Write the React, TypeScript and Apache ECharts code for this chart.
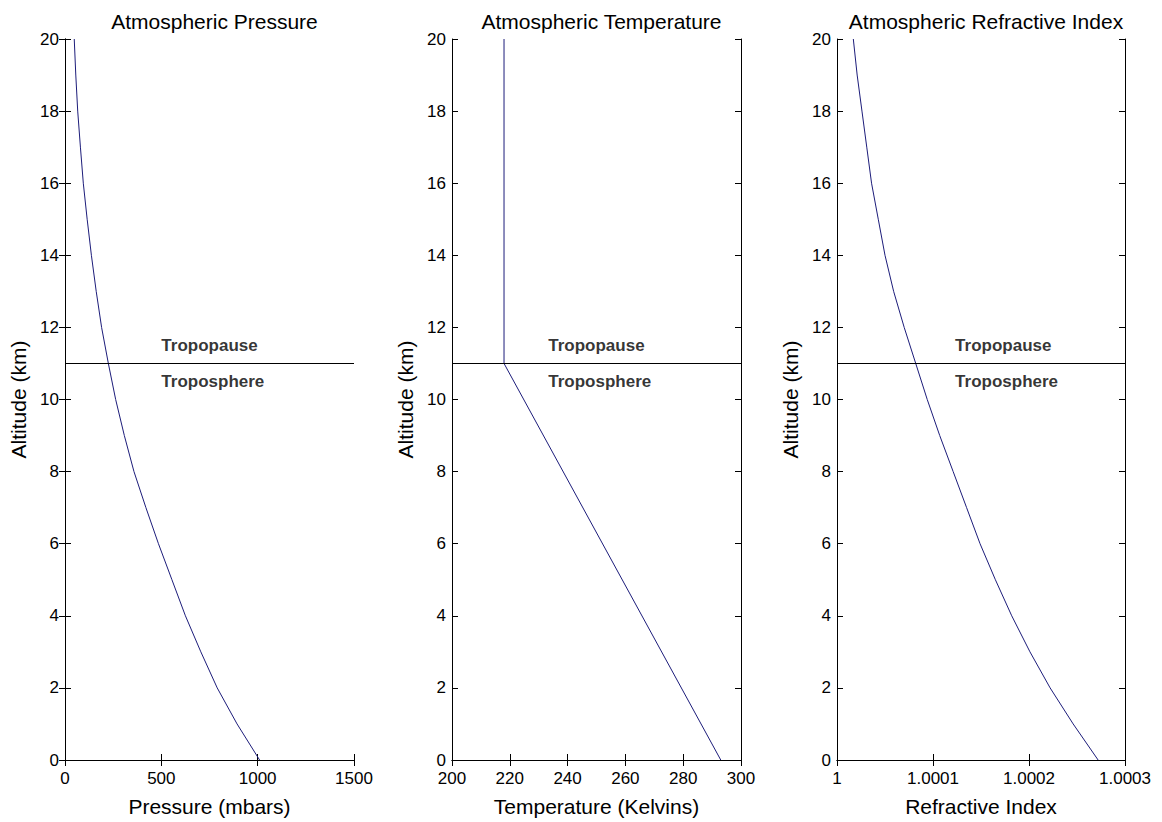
import React, { useEffect, useRef } from "react";
import * as echarts from "echarts";

const altitudeKm = [0, 1, 2, 3, 4, 5, 6, 7, 8, 9, 10, 11, 12, 13, 14, 15, 16, 17, 18, 19, 20];
const pressureMbar = [1010, 893, 790, 705, 625, 555, 485, 420, 358, 308, 263, 225, 190, 162, 137, 115, 95, 80, 66, 56, 48];
const tempAltitudeKm = [0, 11, 20];
const temperatureK = [293, 218, 218];
const refractiveIndex = [
  1.000272, 1.000246, 1.000222, 1.000201, 1.000182, 1.000165, 1.000149, 1.000135, 1.000121, 1.000107,
  1.000094, 1.000082, 1.00007, 1.000059, 1.00005, 1.000043, 1.000036, 1.000031, 1.000026, 1.000021, 1.000017,
];
const titles = ["Atmospheric Pressure", "Atmospheric Temperature", "Atmospheric Refractive Index"];
const xNames = ["Pressure (mbars)", "Temperature (Kelvins)", "Refractive Index"];
const xRanges = [
  [0, 1500, 500],
  [200, 300, 20],
  [1, 1.0003, 0.0001],
];
const tropopauseKm = 11;
const annotTextX = [500, 233.3, 1.000123];
const annotTexts = ["Tropopause", "Troposphere"];
const annotTextY = [11.5, 10.5];

const FONT = "Arial, 'Liberation Sans', sans-serif";
const LINE_COLOR = "#1c1c7a";

export default function App() {
  const ref = useRef<HTMLDivElement>(null);
  useEffect(() => {
    document.body.style.margin = "0";
    if (!ref.current) return;
    const chart = echarts.init(ref.current, undefined, { renderer: "svg" });
    const grids = [
      { left: 65, top: 39, width: 289, height: 725 },
      { left: 452, top: 39, width: 289, height: 725 },
      { left: 837, top: 39, width: 288, height: 725 },
    ];
    const xAxis: any[] = [];
    const yAxis: any[] = [];
    const series: any[] = [];
    const lineAxis = { show: true, lineStyle: { color: "#000", width: 1 } };
    const fmt = (v: number) => String(parseFloat(v.toFixed(4)));
    grids.forEach((g, i) => {
      const [mn, mx, iv] = xRanges[i];
      xAxis.push({
        type: "value", gridIndex: i, position: "bottom", min: mn, max: mx, interval: iv,
        name: xNames[i], nameLocation: "middle", nameGap: 36,
        nameTextStyle: { fontFamily: FONT, fontSize: 21, color: "#000" },
        axisLine: lineAxis, splitLine: { show: false },
        axisTick: { inside: true, length: 6, lineStyle: { color: "#000" } },
        axisLabel: { fontFamily: FONT, fontSize: 17, color: "#000", margin: 10, formatter: fmt, showMinLabel: true, showMaxLabel: true },
      });
      xAxis.push({
        type: "value", gridIndex: i, position: "top", min: mn, max: mx, interval: iv,
        axisLine: lineAxis, splitLine: { show: false },
        axisTick: { inside: true, length: 6, lineStyle: { color: "#000" } },
        axisLabel: { show: false },
      });
      yAxis.push({
        type: "value", gridIndex: i, position: "left", min: 0, max: 20, interval: 2,
        name: "Altitude (km)", nameLocation: "middle", nameGap: 36,
        nameTextStyle: { fontFamily: FONT, fontSize: 21, color: "#000" },
        axisLine: lineAxis, splitLine: { show: false },
        axisTick: { inside: true, length: 6, lineStyle: { color: "#000" } },
        axisLabel: { fontFamily: FONT, fontSize: 17, color: "#000", margin: 6 },
      });
      yAxis.push({
        type: "value", gridIndex: i, position: "right", min: 0, max: 20, interval: 2,
        axisLine: lineAxis, splitLine: { show: false },
        axisTick: { inside: true, length: 6, lineStyle: { color: "#000" } },
        axisLabel: { show: false },
      });
      let data: number[][];
      if (i === 0) data = altitudeKm.map((h, k) => [pressureMbar[k], h]);
      else if (i === 1) data = tempAltitudeKm.map((h, k) => [temperatureK[k], h]);
      else data = altitudeKm.map((h, k) => [refractiveIndex[k], h]);
      series.push({
        type: "line", xAxisIndex: i * 2, yAxisIndex: i * 2, data, showSymbol: false, smooth: false,
        lineStyle: { color: LINE_COLOR, width: 1 }, silent: true,
        markLine: {
          silent: true, symbol: ["none", "none"], label: { show: false },
          lineStyle: { color: "#000", width: 1, type: "solid" },
          data: [{ yAxis: tropopauseKm }],
        },
      });
      series.push({
        type: "scatter", xAxisIndex: i * 2, yAxisIndex: i * 2, symbolSize: 0, silent: true,
        data: annotTexts.map((t, k) => ({ value: [annotTextX[i], annotTextY[k]], name: t })),
        label: {
          show: true, position: [0, 0], align: "left", verticalAlign: "middle",
          formatter: (p: any) => p.name, fontFamily: FONT, fontSize: 17, fontWeight: "bold", color: "#000",
        },
      });
    });
    chart.setOption({
      animation: false,
      backgroundColor: "#fff",
      title: grids.map((g, i) => ({
        text: titles[i], left: g.left + g.width / 2, top: 6, textAlign: "center",
        textStyle: { fontFamily: FONT, fontSize: 21, fontWeight: "normal", color: "#000" },
      })),
      grid: grids,
      xAxis, yAxis, series,
    });
    return () => chart.dispose();
  }, []);
  return <div ref={ref} style={{ width: 1162, height: 822 }} />;
}
